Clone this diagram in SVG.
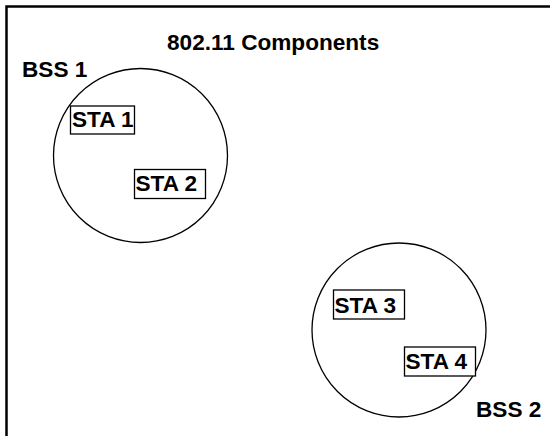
<svg xmlns="http://www.w3.org/2000/svg" width="550" height="436" viewBox="0 0 550 436">
<style>
text{font-family:"Liberation Sans",Arial,sans-serif;font-weight:bold;font-size:22.6px;fill:#000}
.bss{fill:none;stroke:#000;stroke-width:1.3}
.sta{fill:#fff;stroke:#000;stroke-width:1.3}
</style>
<rect width="550" height="436" fill="#fff"/>
<path d="M6.5,436 V6.5 H550" fill="none" stroke="#000" stroke-width="2.5"/>
<text x="167" y="50">802.11 Components</text>
<g id="bss1">
<circle class="bss" cx="140.5" cy="155.5" r="87"/>
<text x="22" y="77">BSS 1</text>
</g>
<g id="bss2">
<circle class="bss" cx="399" cy="330" r="87"/>
<text x="476" y="417">BSS 2</text>
</g>
<g id="sta1"><rect class="sta" x="70.5" y="106" width="64" height="28"/><text x="72" y="126.5">STA 1</text></g>
<g id="sta2"><rect class="sta" x="134.5" y="169.5" width="71" height="29"/><text x="135.5" y="191">STA 2</text></g>
<g id="sta3"><rect class="sta" x="333.5" y="290" width="71" height="29"/><text x="334.5" y="312.5">STA 3</text></g>
<g id="sta4"><rect class="sta" x="404.5" y="347" width="71" height="29"/><text x="405.5" y="369">STA 4</text></g>
<g id="connectors"/>
</svg>
